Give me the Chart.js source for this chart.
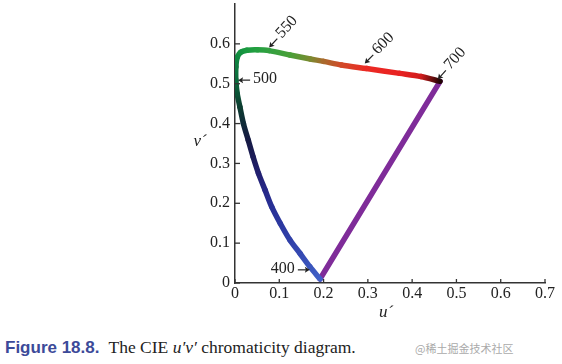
<!DOCTYPE html>
<html><head><meta charset="utf-8">
<script src="https://cdn.jsdelivr.net/npm/chart.js@4/dist/chart.umd.min.js"></script>
<style>
html,body{margin:0;padding:0;background:#fff;width:562px;height:364px;overflow:hidden}
#wrap{position:absolute;left:0;top:0;width:562px;height:330px}
#cap{position:absolute;left:5px;top:337px;font-family:"Liberation Serif",serif;font-size:17.5px;color:#222;white-space:nowrap}
#cap b{font-family:"Liberation Sans",sans-serif;color:#3c4a99;font-size:17px;margin-right:9px}
#wm{position:absolute;left:415px;top:340px;font-family:"Noto Sans CJK SC",sans-serif;font-size:11px;color:#aaa;white-space:nowrap}
</style></head>
<body>
<div id="wrap"><canvas id="c"></canvas></div>
<div id="cap"><b>Figure 18.8.</b>The CIE <i>u′v′</i> chromaticity diagram.</div>
<div id="wm">@稀土掘金技术社区</div>
<script>
// Spectral locus (400 nm -> 700 nm)
const locusU = [0.192, 0.169, 0.147, 0.124, 0.102, 0.083, 0.068, 0.053, 0.041, 0.030, 0.019, 0.011, 0.005, 0.002, 0.002, 0.005, 0.013, 0.027, 0.050, 0.077, 0.124, 0.170, 0.200, 0.240, 0.297, 0.372, 0.420, 0.463];
const locusV = [0.010, 0.041, 0.074, 0.108, 0.150, 0.191, 0.233, 0.275, 0.316, 0.358, 0.400, 0.442, 0.475, 0.509, 0.542, 0.566, 0.579, 0.584, 0.585, 0.583, 0.572, 0.562, 0.556, 0.547, 0.538, 0.526, 0.518, 0.506];
const locusColors = ['#4060c8','#3a55bc','#3549b2','#3040a8','#2c38a0','#283096','#262888','#222070','#1c1c58','#161a44','#102a38','#0c3c30','#0b5236','#0c6a3c','#0e7a40','#108840','#149240','#1a9a40','#24a040','#32a040','#48a038','#7a8a30','#a86a2c','#d04a28','#ec2a24','#e82222','#d01c1c','#200404'];
// Line of purples (700 nm -> 400 nm)
const purpleU = [0.463, 0.192];
const purpleV = [0.506, 0.010];
// Ticks
const xTicks = [0, 0.1, 0.2, 0.3, 0.4, 0.5, 0.6, 0.7];
const yTicks = [0, 0.1, 0.2, 0.3, 0.4, 0.5, 0.6];
// Wavelength marks (arrow tip position)
const markText = ['400', '500', '550', '600', '700'];
const markU = [0.169, 0.007, 0.077, 0.293, 0.458];
const markV = [0.033, 0.509, 0.591, 0.551, 0.511];

const serif = '"Liberation Serif", "DejaVu Serif", serif';
const markStyle = {
  '400': {side: 'right', angle: 0},
  '500': {side: 'left', angle: 0},
  '550': {side: 'left', angle: -47},
  '600': {side: 'left', angle: -45},
  '700': {side: 'left', angle: -48}
};

const overlay = {
  id: 'overlay',
  afterDraw(chart) {
    const {ctx, scales: {x, y}} = chart;
    ctx.save();
    ctx.strokeStyle = '#333';
    ctx.lineWidth = 1.3;
    xTicks.forEach(t => {
      const px = x.getPixelForValue(t);
      ctx.beginPath(); ctx.moveTo(px, y.bottom); ctx.lineTo(px, y.bottom - 4); ctx.stroke();
    });
    yTicks.forEach(t => {
      const py = y.getPixelForValue(t);
      ctx.beginPath(); ctx.moveTo(x.left, py); ctx.lineTo(x.left + 5, py); ctx.stroke();
    });
    ctx.fillStyle = '#222';
    ctx.font = 'italic 17px ' + serif;
    ctx.textAlign = 'center';
    ctx.textBaseline = 'middle';
    ctx.fillText('u\u00b4', (x.left + x.right) / 2 - 4, y.bottom + 30);
    ctx.fillText('v\u00b4', x.left - 35, (y.top + y.bottom) / 2 - 2);
    ctx.font = '16px ' + serif;
    ctx.strokeStyle = '#222';
    ctx.lineWidth = 1.2;
    markText.forEach((m, i) => {
      const s = markStyle[m];
      const px = x.getPixelForValue(markU[i]);
      const py = y.getPixelForValue(markV[i]);
      const dir = s.side === 'left' ? 1 : -1;
      ctx.save();
      ctx.translate(px, py);
      ctx.rotate(s.angle * Math.PI / 180);
      // arrow shaft
      ctx.beginPath(); ctx.moveTo(dir * 2, 0); ctx.lineTo(dir * 12, 0); ctx.stroke();
      // arrow head
      ctx.beginPath();
      ctx.moveTo(0, 0); ctx.lineTo(dir * 5, -3); ctx.lineTo(dir * 4, 0); ctx.lineTo(dir * 5, 3);
      ctx.closePath(); ctx.fill();
      ctx.textAlign = s.side === 'left' ? 'left' : 'right';
      ctx.textBaseline = 'middle';
      ctx.fillText(m, dir * 15, -1);
      ctx.restore();
    });
    ctx.restore();
  }
};

new Chart(document.getElementById('c'), {
  type: 'scatter',
  data: {
    datasets: [
      {
        data: purpleU.map((u, i) => ({x: u, y: purpleV[i]})),
        showLine: true, borderColor: '#7f2c99', borderWidth: 5.5,
        borderCapStyle: 'round', pointRadius: 0, pointHoverRadius: 0, order: 2
      },
      {
        data: locusU.map((u, i) => ({x: u, y: locusV[i]})),
        showLine: true, borderWidth: 5.5, tension: 0.3,
        borderCapStyle: 'round', borderJoinStyle: 'round',
        pointRadius: 0, pointHoverRadius: 0, order: 1,
        borderColor: '#20a040',
        segment: {
          borderColor: c => {
            const g = c.chart.ctx.createLinearGradient(c.p0.x, c.p0.y, c.p1.x, c.p1.y);
            g.addColorStop(0, locusColors[c.p0DataIndex]);
            g.addColorStop(1, locusColors[c.p1DataIndex]);
            return g;
          }
        }
      }
    ]
  },
  options: {
    responsive: true, maintainAspectRatio: false, animation: false,
    layout: {padding: {left: 195, right: 17, top: 4, bottom: 0}},
    plugins: {legend: {display: false}, tooltip: {enabled: false}},
    scales: {
      x: {
        type: 'linear', min: 0, max: 0.7,
        afterBuildTicks: s => { s.ticks = xTicks.map(v => ({value: v})); },
        afterFit: s => { s.height = 47; s.paddingLeft = 0; s.paddingRight = 0; },
        ticks: {font: {family: serif, size: 16}, color: '#222', padding: 1, maxRotation: 0,
          callback: v => String(v)},
        grid: {drawOnChartArea: false, drawTicks: false},
        border: {display: true, color: '#333', width: 1.5}
      },
      y: {
        type: 'linear', min: 0, max: 0.7,
        afterBuildTicks: s => { s.ticks = yTicks.map(v => ({value: v})); },
        afterFit: s => { s.width = 40; s.paddingTop = 0; s.paddingBottom = 0; },
        ticks: {font: {family: serif, size: 16}, color: '#222', padding: 5,
          callback: v => String(v)},
        grid: {drawOnChartArea: false, drawTicks: false},
        border: {display: true, color: '#333', width: 1.5}
      }
    }
  },
  plugins: [overlay]
});
</script>
</body></html>
